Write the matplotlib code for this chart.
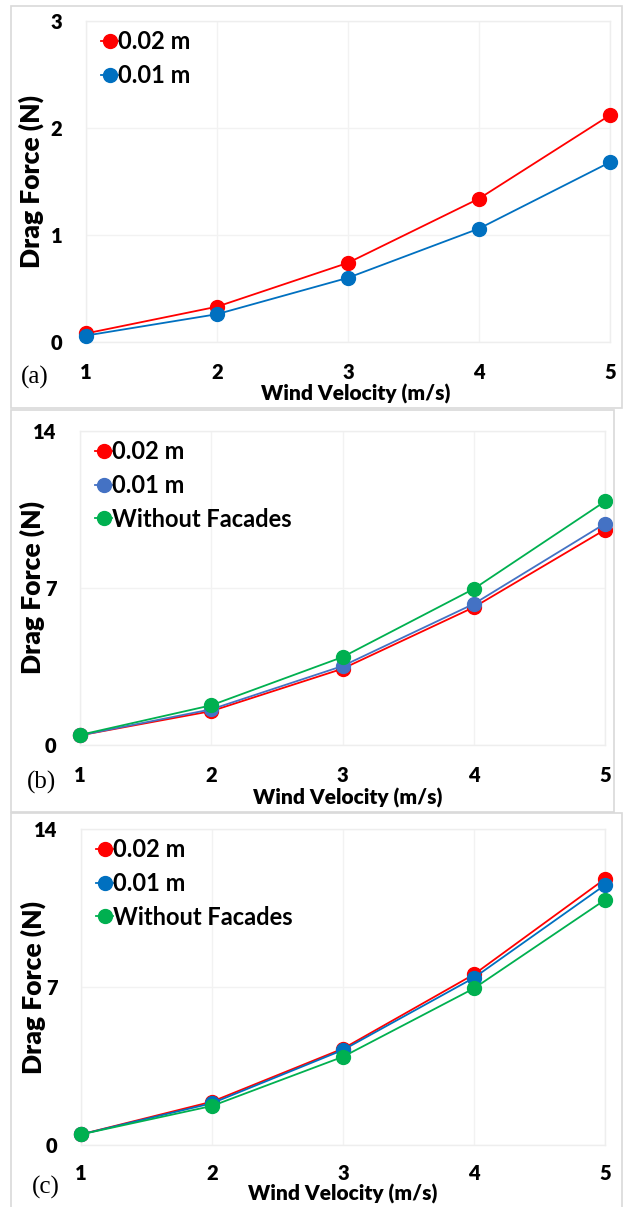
import matplotlib
matplotlib.use("Agg")
import matplotlib.pyplot as plt
from matplotlib.patches import Rectangle

W, H = 624, 1207
velocity = [1, 2, 3, 4, 5]

a_002 = [0.08, 0.33, 0.74, 1.34, 2.12]
a_001 = [0.06, 0.26, 0.60, 1.06, 1.68]

b_002 = [0.43, 1.51, 3.40, 6.14, 9.60]
b_001 = [0.43, 1.59, 3.52, 6.29, 9.87]
b_wo = [0.45, 1.77, 3.92, 6.96, 10.86]

c_002 = [0.47, 1.92, 4.27, 7.56, 11.79]
c_001 = [0.47, 1.85, 4.21, 7.41, 11.52]
c_wo = [0.47, 1.73, 3.91, 6.94, 10.86]

labels = ["0.02 m", "0.01 m", "Without Facades"]
a_yticks = [0, 1, 2, 3]
bc_yticks = [0, 7, 14]

RED = "#FF0000"
BLUE = "#0070C0"
BLUE_B = "#4472C4"
GREEN = "#00B050"
FONT = "Lato"

fig = plt.figure(figsize=(W / 100, H / 100), dpi=100)


def px_axes(x0, x1, ytop, ybot):
    ax = fig.add_axes([x0 / W, 1 - ybot / H, (x1 - x0) / W, (ybot - ytop) / H])
    ax._px = (x0, x1, ytop, ybot)
    return ax


def panel_box(x0, y0, x1, y1):
    fig.patches.append(Rectangle((x0 / W, 1 - y1 / H), (x1 - x0) / W, (y1 - y0) / H,
                                 transform=fig.transFigure, fill=False,
                                 edgecolor="#D9D9D9", linewidth=1.2))


def style(ax, yticks, ymax, series, colors, tag, tagpos, ylab_px, xlab_px, tick_pad):
    x0, x1, ytop, ybot = ax._px
    for vals, col, lab in zip(series, colors, labels):
        ax.plot(velocity, vals, color=col, linewidth=1.3, marker="o",
                markersize=10, label=lab, clip_on=False, zorder=3)
    ax.set_xlim(1, 5)
    ax.set_ylim(0, ymax)
    ax.set_xticks(velocity)
    ax.set_yticks(yticks)
    ax.grid(True, color="#F2F2F2", linewidth=1.0)
    ax.set_axisbelow(True)
    for s in ax.spines.values():
        s.set_color("#EEEEEE")
        s.set_linewidth(1.0)
    ax.tick_params(length=0, labelsize=14.5)
    ax.tick_params(axis="y", pad=17)
    ax.tick_params(axis="x", pad=tick_pad)
    for t in ax.get_xticklabels() + ax.get_yticklabels():
        t.set_fontfamily(FONT)
        t.set_fontweight("heavy")
    ax.set_ylabel("Drag Force (N)", fontsize=19, fontweight="heavy", family=FONT)
    ax.yaxis.set_label_coords((ylab_px - x0) / (x1 - x0), 0.5)
    ax.yaxis.label.set_verticalalignment("center")
    ax.set_xlabel("Wind Velocity (m/s)", fontsize=15, fontweight="heavy", family=FONT)
    ax.xaxis.set_label_coords((xlab_px[0] - x0) / (x1 - x0), (ybot - xlab_px[1]) / (ybot - ytop))
    ax.xaxis.label.set_verticalalignment("center")
    ax.legend(loc="upper left", bbox_to_anchor=(0.0, 1.0 + 6 / (ybot - ytop)), frameon=False,
              handlelength=0.7, handletextpad=0.0, borderaxespad=0.25,
              labelspacing=0.45, prop={"family": FONT, "size": 17, "weight": "bold"})
    fig.text(tagpos[0] / W, 1 - tagpos[1] / H, tag, family="Liberation Serif",
             fontsize=18, ha="center", va="center")


panel_box(11, 6, 622, 408)
panel_box(11, 410, 614, 812)
panel_box(11, 813, 622, 1212)

ax1 = px_axes(86, 610, 21, 342)
style(ax1, a_yticks, 3, [a_002, a_001], [RED, BLUE], "(a)", (35, 377), 31, (356, 394), 15)

ax2 = px_axes(80, 605, 431, 745)
style(ax2, bc_yticks, 14, [b_002, b_001, b_wo], [RED, BLUE_B, GREEN], "(b)", (41, 782), 32, (348, 798), 15)

ax3 = px_axes(81, 605, 829, 1145)
style(ax3, bc_yticks, 14, [c_002, c_001, c_wo], [RED, BLUE, GREEN], "(c)", (46, 1187), 33, (343, 1194), 14)

fig.savefig("out.png", dpi=100)
